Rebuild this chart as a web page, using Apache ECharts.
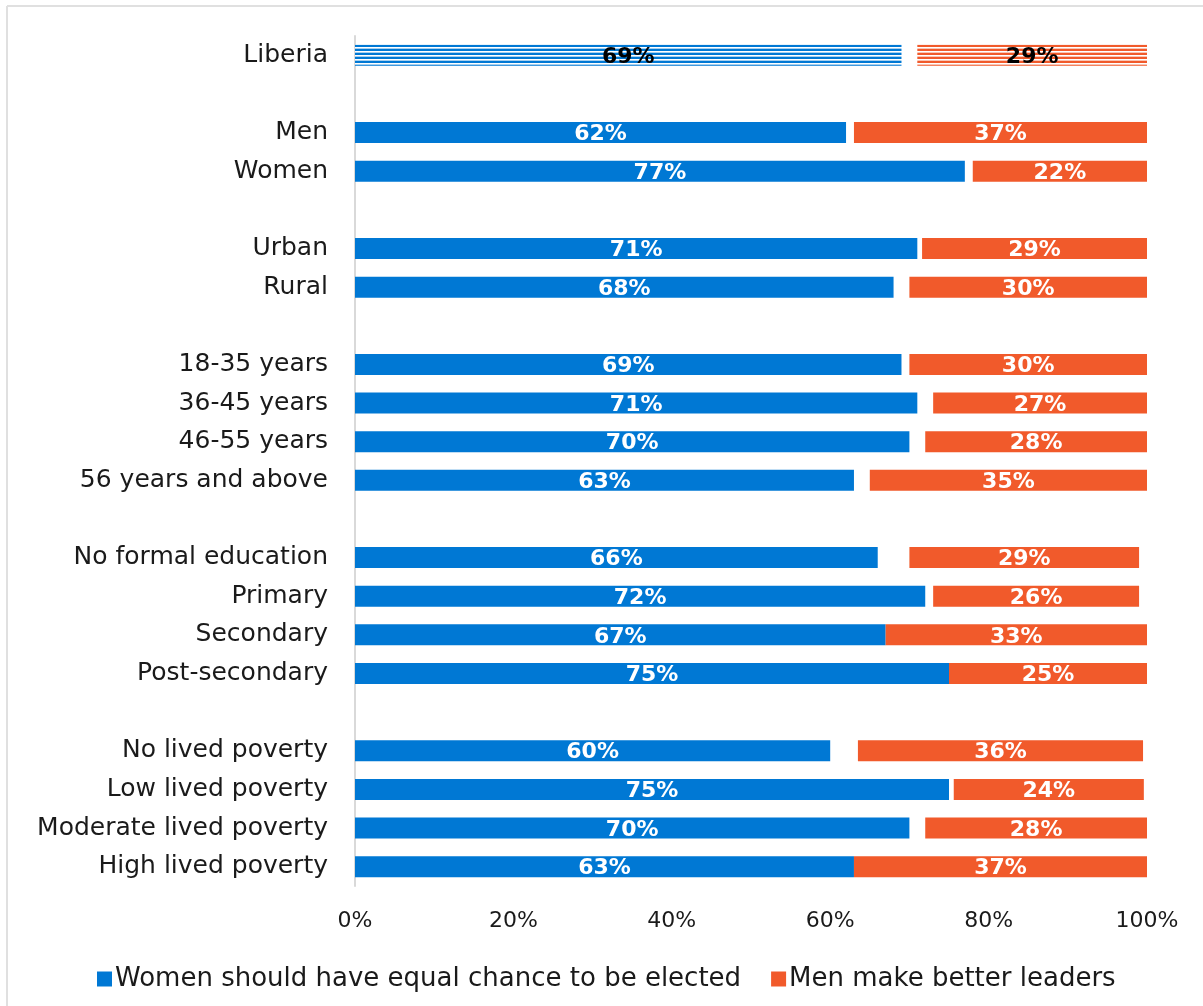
<!DOCTYPE html>
<html>
<head>
<meta charset="utf-8">
<script src="https://cdn.jsdelivr.net/npm/echarts@6/dist/echarts.min.js"></script>
<style>
html,body{margin:0;padding:0;background:#fff;}
#chart{width:1203px;height:1006px;}
</style>
</head>
<body>
<div id="chart"></div>
<script>
// Categories (blank strings are spacer rows between groups)
var categories = ['Liberia', ' ', 'Men', 'Women', '  ', 'Urban', 'Rural', '   ',
  '18-35 years', '36-45 years', '46-55 years', '56 years and above', '    ',
  'No formal education', 'Primary', 'Secondary', 'Post-secondary', '     ',
  'No lived poverty', 'Low lived poverty', 'Moderate lived poverty', 'High lived poverty'];

// Women should have equal chance to be elected (%)
var equalChance = [69, null, 62, 77, null, 71, 68, null, 69, 71, 70, 63, null, 66, 72, 67, 75, null, 60, 75, 70, 63];
// Other / don't know share drawn as an invisible gap between the two answers (%)
var gapShare = [2, null, 1, 1, null, 0.6, 2, null, 1, 2, 2, 2, null, 4, 1, 0, 0, null, 3.5, 0.6, 2, 0];
// Men make better leaders (%)
var menBetter = [29, null, 37, 22, null, 29, 30, null, 30, 27, 28, 35, null, 29, 26, 33, 25, null, 36, 24, 28, 37];

var xTicks = [0, 20, 40, 60, 80, 100];

var BLUE = '#0078D4';
var ORANGE = '#F15A2B';
var FONT = 'DejaVu Sans';

function stripe(color) {
  var c = document.createElement('canvas');
  c.width = 8; c.height = 4;
  var ctx = c.getContext('2d');
  ctx.fillStyle = '#ffffff';
  ctx.fillRect(0, 0, 8, 4);
  ctx.fillStyle = color;
  ctx.fillRect(0, 1, 8, 2);
  ctx.globalAlpha = 0.35;
  ctx.fillRect(0, 0, 8, 1);
  return { image: c, repeat: 'repeat' };
}

function buildData(arr, color) {
  return arr.map(function (v, i) {
    if (v === null) return '-';
    if (i === 0) {
      return {
        value: v,
        itemStyle: { color: stripe(color) },
        label: { color: '#000000' }
      };
    }
    return v;
  });
}

var labelCfg = {
  show: true,
  position: 'inside',
  color: '#ffffff',
  fontFamily: FONT,
  fontWeight: 'bold',
  fontSize: 22,
  offset: [0, 2],
  formatter: function (p) { return Math.round(p.value) + '%'; }
};

var chart = echarts.init(document.getElementById('chart'), null, { renderer: 'canvas' });
chart.setOption({
  animation: false,
  backgroundColor: '#ffffff',
  textStyle: { fontFamily: FONT },
  grid: { left: 355, right: 56, top: 36, bottom: 120, containLabel: false },
  legend: {
    left: 92,
    top: 961,
    itemWidth: 15,
    itemHeight: 15,
    itemGap: 30,
    icon: 'rect',
    textStyle: { fontFamily: FONT, fontSize: 26, color: '#1a1a1a', padding: [0, 0, 0, -2] },
    data: ['Women should have equal chance to be elected', 'Men make better leaders']
  },
  xAxis: {
    type: 'value',
    min: 0,
    max: 100,
    interval: 20,
    axisLine: { show: false },
    axisTick: { show: false },
    splitLine: { show: false },
    axisLabel: {
      margin: 24,
      fontFamily: FONT,
      fontSize: 22,
      color: '#1a1a1a',
      formatter: function (v) { return xTicks.indexOf(v) >= 0 ? v + '%' : ''; }
    }
  },
  yAxis: {
    type: 'category',
    inverse: true,
    data: categories,
    axisLine: { show: true, lineStyle: { color: '#d9d9d9', width: 2 } },
    axisTick: { show: false },
    axisLabel: { margin: 27, fontFamily: FONT, fontSize: 25, color: '#1a1a1a' }
  },
  series: [
    {
      name: 'Women should have equal chance to be elected',
      type: 'bar',
      stack: 'total',
      barWidth: 21,
      itemStyle: { color: BLUE },
      label: labelCfg,
      data: buildData(equalChance, BLUE)
    },
    {
      name: 'gap',
      type: 'bar',
      stack: 'total',
      barWidth: 21,
      itemStyle: { color: 'rgba(0,0,0,0)' },
      label: { show: false },
      silent: true,
      data: gapShare.map(function (v) { return v === null ? '-' : v; })
    },
    {
      name: 'Men make better leaders',
      type: 'bar',
      stack: 'total',
      barWidth: 21,
      itemStyle: { color: ORANGE },
      label: labelCfg,
      data: buildData(menBetter, ORANGE)
    }
  ],
  graphic: [
    { type: 'line', shape: { x1: 7, y1: 6, x2: 1203, y2: 6 }, style: { stroke: '#e0e0e0', lineWidth: 2 } },
    { type: 'line', shape: { x1: 7, y1: 6, x2: 7, y2: 1006 }, style: { stroke: '#e0e0e0', lineWidth: 2 } }
  ]
});
</script>
</body>
</html>
